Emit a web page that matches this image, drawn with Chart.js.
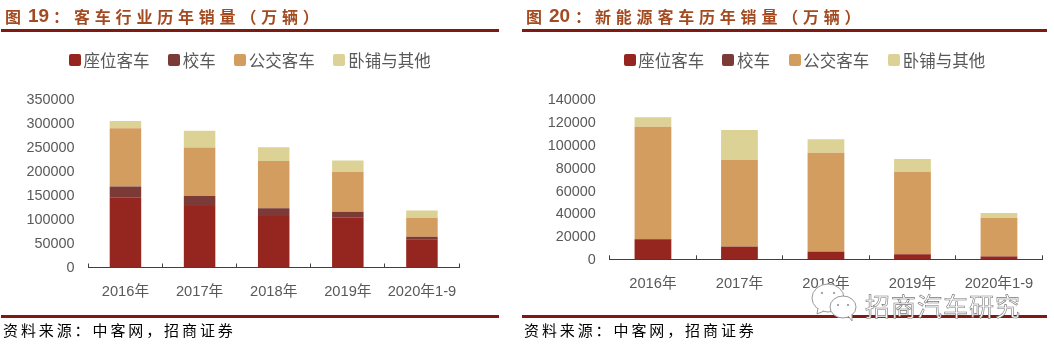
<!DOCTYPE html>
<html>
<head>
<meta charset="utf-8">
<script src="https://cdn.jsdelivr.net/npm/chart.js@4"></script>
<style>
html, body { margin: 0; padding: 0; background: #fff; }
body { width: 1054px; height: 350px; position: relative; overflow: hidden; font-family: "Liberation Sans", "Noto Sans CJK SC", sans-serif; }
canvas { position: absolute; top: 0; }
.rule { position: absolute; height: 3px; background: #7f1a12; }
.abs { position: absolute; white-space: nowrap; }
.title { top: 4px; line-height: 24px; font-size: 16px; font-weight: 700; color: #a34a20; letter-spacing: 4.8px; font-family: "Noto Sans CJK SC", sans-serif; }
.fignum { top: 4px; line-height: 24px; font-size: 19px; font-weight: 700; color: #a34a20; letter-spacing: 0; font-family: "Liberation Sans", sans-serif; }
.source { top: 320px; line-height: 20px; font-size: 15px; color: #000; letter-spacing: 2.9px; font-family: "Noto Sans CJK SC", sans-serif; }
.legend-box { position: absolute; top: 54px; width: 12px; height: 12px; border-radius: 2px; }
.legend-text { position: absolute; top: 48px; line-height: 24px; font-size: 16.5px; color: #595959; white-space: nowrap; font-family: "Noto Sans CJK SC", sans-serif; }
.mark { left: 865px; top: 288px; line-height: 34px; font-size: 25px; letter-spacing: 1px; color: #fff; -webkit-text-stroke: 0.6px #777; font-family: "Noto Sans CJK SC", sans-serif; }
#bubbles { position: absolute; left: 810px; top: 280px; }
</style>
</head>
<body>
<canvas id="busChart" style="left:0"></canvas>
<canvas id="nevChart" style="left:527px"></canvas>

<div class="rule" style="left:1px;width:498px;top:29px"></div>
<div class="rule" style="left:1px;width:498px;top:315px"></div>
<div class="rule" style="left:522px;width:525px;top:29px"></div>
<div class="rule" style="left:522px;width:525px;top:315px"></div>

<div class="abs title" style="left:5px">图</div>
<div class="abs fignum" style="left:28px">19</div>
<div class="abs title" style="left:53px">&#xFF1A;</div>
<div class="abs title" style="left:74px">客车行业历年销量&#xFF08;万辆&#xFF09;</div>

<div class="abs title" style="left:526px">图</div>
<div class="abs fignum" style="left:549px">20</div>
<div class="abs title" style="left:575px">&#xFF1A;</div>
<div class="abs title" style="left:595px">新能源客车历年销量&#xFF08;万辆&#xFF09;</div>

<div class="abs source" style="left:3px">资料来源&#xFF1A;中客网&#xFF0C;招商证券</div>
<div class="abs source" style="left:524px">资料来源&#xFF1A;中客网&#xFF0C;招商证券</div>

<div id="legends"></div>

<svg id="bubbles" width="50" height="44">
  <ellipse cx="18" cy="18" rx="16" ry="14" fill="#fff" stroke="#999" stroke-width="1"/>
  <path d="M8 28 L7 34 L14 31" fill="#fff" stroke="#999" stroke-width="1"/>
  <ellipse cx="33" cy="27" rx="13" ry="11" fill="#fff" stroke="#999" stroke-width="1"/>
  <path d="M38 36 L42 41 L42 34" fill="#fff" stroke="#999" stroke-width="1"/>
  <circle cx="12" cy="13" r="1" fill="#888"/><circle cx="24" cy="13" r="1" fill="#888"/>
  <circle cx="28" cy="25" r="1" fill="#888"/><circle cx="38" cy="25" r="1" fill="#888"/>
</svg>
<div class="abs mark">招商汽车研究</div>

<script>
const categories = ["2016年", "2017年", "2018年", "2019年", "2020年1-9"];
const seriesNames = ["座位客车", "校车", "公交客车", "卧铺与其他"];
const seriesColors = ["#94261f", "#7b3a36", "#d49d60", "#ddd296"];

// 图19 客车行业
const busSeat = [145000, 128000, 107000, 103500, 58500];
const busSchool = [23000, 20500, 16000, 12500, 5500];
const busPublic = [121500, 100500, 98000, 83000, 39500];
const busOther = [15000, 35000, 29000, 23000, 15000];

// 图20 新能源客车
const nevSeat = [17500, 11000, 6700, 4400, 2500];
const nevSchool = [300, 100, 100, 100, 100];
const nevPublic = [98000, 75600, 86200, 72000, 33400];
const nevOther = [8200, 26300, 11800, 11000, 4400];

function makeChart(id, values, max, step, plotLeft, plotRight, plotBottom) {
    const canvas = document.getElementById(id);
    canvas.width = 527;
    canvas.height = 350;
    canvas.style.width = "527px";
    canvas.style.height = "350px";

    return new Chart(canvas.getContext("2d"), {
        type: "bar",
        data: {
            labels: categories,
            datasets: values.map((data, i) => ({
                label: seriesNames[i],
                data: data,
                backgroundColor: seriesColors[i],
                categoryPercentage: 1,
                barPercentage: 0.425,
            })),
        },
        options: {
            responsive: false,
            animation: false,
            layout: { padding: { top: 99, left: 0, right: 527 - plotRight, bottom: 0 } },
            plugins: { legend: { display: false }, tooltip: { enabled: false } },
            scales: {
                x: {
                    stacked: true,
                    afterFit: (scale) => { scale.height = 350 - plotBottom; },
                    border: { color: "#404040", width: 1 },
                    grid: { drawOnChartArea: false, tickLength: -4, color: "#404040", offset: true },
                    ticks: {
                        color: "#595959",
                        padding: 20,
                        maxRotation: 0,
                        autoSkip: false,
                        font: { family: "'Liberation Sans', 'Noto Sans CJK SC'", size: 14.7 },
                    },
                },
                y: {
                    stacked: true,
                    min: 0,
                    max: max,
                    afterFit: (scale) => { scale.width = plotLeft; },
                    border: { display: false },
                    grid: { display: false },
                    ticks: {
                        stepSize: step,
                        color: "#595959",
                        padding: 6,
                        labelOffset: 1,
                        callback: (v) => String(v),
                        font: { family: "'Liberation Sans'", size: 14.4 },
                    },
                },
            },
        },
    });
}

makeChart("busChart", [busSeat, busSchool, busPublic, busOther], 350000, 50000, 88.4, 459, 267.5);
makeChart("nevChart", [nevSeat, nevSchool, nevPublic, nevOther], 140000, 20000, 82.7, 519.7, 259.3);

// legend is html so the box/text gap can match
const legendBoxLeft = [[68.6, 168, 234, 333.4], [623.5, 722.3, 788.5, 888]];
const legends = document.getElementById("legends");
legendBoxLeft.forEach((lefts) => {
    lefts.forEach((left, i) => {
        const box = document.createElement("div");
        box.className = "legend-box";
        box.style.left = left + "px";
        box.style.background = seriesColors[i];
        legends.appendChild(box);
        const text = document.createElement("div");
        text.className = "legend-text";
        text.style.left = left + 14.8 + "px";
        text.textContent = seriesNames[i];
        legends.appendChild(text);
    });
});
</script>
</body>
</html>
